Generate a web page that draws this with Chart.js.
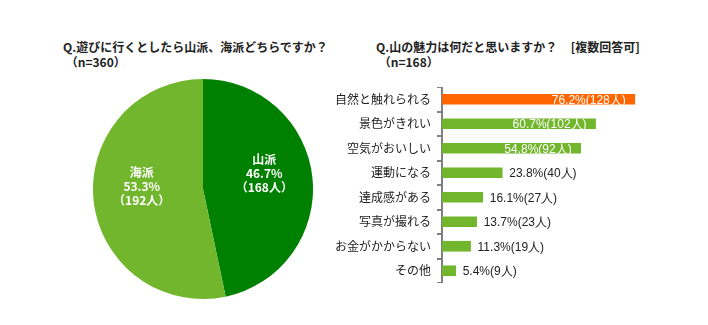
<!DOCTYPE html>
<html>
<head>
<meta charset="utf-8">
<script src="https://cdn.jsdelivr.net/npm/chart.js@4"></script>
<style>
  body { margin: 0; width: 708px; height: 325px; background: #fff; position: relative; overflow: hidden;
         font-family: "Noto Sans CJK JP", sans-serif; }
  .title { position: absolute; font-size: 12px; font-weight: bold; color: #222; line-height: 15px; white-space: nowrap; }
  .box { position: absolute; }
</style>
</head>
<body>
<div class="title" style="left:63px; top:39px;">Q.遊びに行くとしたら山派、海派どちらですか？<br>&nbsp;（n=360）</div>
<div class="title" style="left:376px; top:39px;">Q.山の魅力は何だと思いますか？&nbsp;&nbsp;&nbsp;&nbsp;&nbsp;[複数回答可]<br>&nbsp;（n=168）</div>
<div class="box" style="left:93px; top:79px; width:220px; height:220px;"><canvas id="graficoPie"></canvas></div>
<div class="box" style="left:330px; top:87px; width:370px; height:196px;"><canvas id="graficoBar"></canvas></div>
<script>
// Gráfico 1 =====================================================================

const pieLabels = ["山派", "海派"];
const piePercent = [46.7, 53.3];
const pieCount = [168, 192];
const pieColors = ["#008000", "#72b62e"];

// Gráfico 2 =====================================================================

const barLabels = ["自然と触れられる", "景色がきれい", "空気がおいしい", "運動になる", "達成感がある", "写真が撮れる", "お金がかからない", "その他"];
const barPercent = [76.2, 60.7, 54.8, 23.8, 16.1, 13.7, 11.3, 5.4];
const barCount = [128, 102, 92, 40, 27, 23, 19, 9];
const barColors = ["#ff6600", "#72b62e", "#72b62e", "#72b62e", "#72b62e", "#72b62e", "#72b62e", "#72b62e"];

// etiquetas do pie
const pieLabelPlugin = {
  id: "pieLabel",
  afterDatasetsDraw(chart) {
    const ctx = chart.ctx;
    const meta = chart.getDatasetMeta(0);
    ctx.save();
    ctx.fillStyle = "#fff";
    ctx.font = "bold 12px 'Noto Sans CJK JP', sans-serif";
    ctx.textAlign = "center";
    ctx.textBaseline = "middle";
    meta.data.forEach((arc, i) => {
      const mid = (arc.startAngle + arc.endAngle) / 2;
      const r = arc.outerRadius * 0.56;
      const x = arc.x + Math.cos(mid) * r;
      const y = arc.y + Math.sin(mid) * r - 9;
      ctx.fillText(pieLabels[i], x, y - 14);
      ctx.fillText(piePercent[i].toFixed(1) + "%", x, y);
      ctx.fillText("（" + pieCount[i] + "人）", x, y + 14);
    });
    ctx.restore();
  },
};

// etiquetas das barras
const barLabelPlugin = {
  id: "barLabel",
  afterDatasetsDraw(chart) {
    const ctx = chart.ctx;
    const meta = chart.getDatasetMeta(0);
    ctx.save();
    ctx.font = "12px 'Liberation Sans', Arial, sans-serif";
    ctx.textBaseline = "middle";
    meta.data.forEach((bar, i) => {
      const txt = barPercent[i].toFixed(1) + "%(" + barCount[i] + "人)";
      if (barPercent[i] > 40) {
        ctx.fillStyle = "#fff";
        ctx.textAlign = "right";
        ctx.fillText(txt, bar.x - 9, bar.y + 1);
      } else {
        ctx.fillStyle = "#222";
        ctx.textAlign = "left";
        ctx.fillText(txt, bar.x + 7, bar.y + 1);
      }
    });
    ctx.restore();
  },
};

const configPie = {
  type: "pie",
  data: {
    labels: pieLabels,
    datasets: [{ data: piePercent, backgroundColor: pieColors, borderWidth: 0 }],
  },
  options: {
    responsive: true,
    maintainAspectRatio: false,
    animation: false,
    plugins: { legend: { display: false }, tooltip: { enabled: false } },
  },
  plugins: [pieLabelPlugin],
};

const configBar = {
  type: "bar",
  data: {
    labels: barLabels,
    datasets: [{ data: barPercent, backgroundColor: barColors, borderWidth: 0, barThickness: 10 }],
  },
  options: {
    indexAxis: "y",
    responsive: true,
    maintainAspectRatio: false,
    animation: false,
    layout: { padding: { top: 0, bottom: 0, left: 0, right: 5 } },
    plugins: { legend: { display: false }, tooltip: { enabled: false } },
    scales: {
      x: { display: false, min: 0, max: 100 },
      y: {
        afterFit(scale) {
          scale.width = 112;
          scale.paddingTop = 0;
          scale.paddingBottom = 0;
        },
        grid: { display: true, drawOnChartArea: false, drawTicks: true, tickLength: 5, color: "#808080", lineWidth: 2, offset: true },
        border: { display: true, color: "#808080", width: 2 },
        ticks: { color: "#222", padding: 6, font: { size: 12, family: "'Noto Sans CJK JP', sans-serif" } },
      },
    },
  },
  plugins: [barLabelPlugin],
};

const graficoPie = new Chart(document.getElementById("graficoPie"), configPie);
const graficoBar = new Chart(document.getElementById("graficoBar"), configBar);
</script>
</body>
</html>
